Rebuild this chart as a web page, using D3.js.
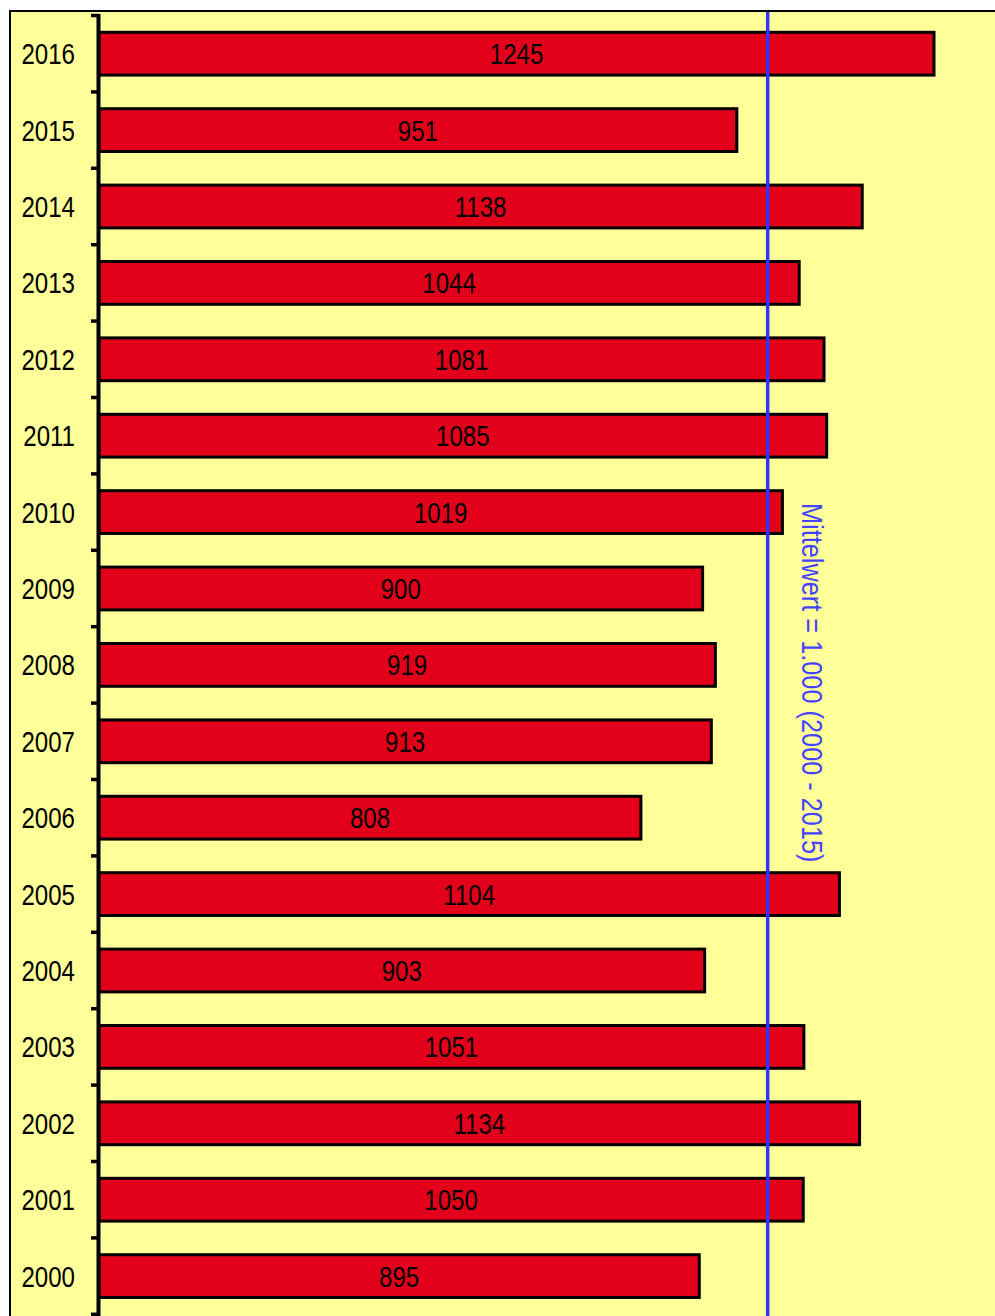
<!DOCTYPE html>
<html>
<head>
<meta charset="utf-8">
<script src="https://cdn.jsdelivr.net/npm/d3@7"></script>
<style>
  body { margin: 0; background: #ffffff; }
  svg { display: block; }
</style>
</head>
<body>
<div id="chart"></div>
<script>
// years, top to bottom
var years = ["2016", "2015", "2014", "2013", "2012", "2011", "2010", "2009",
  "2008", "2007", "2006", "2005", "2004", "2003", "2002", "2001", "2000"];
var values = [1245, 951, 1138, 1044, 1081, 1085, 1019, 900,
  919, 913, 808, 1104, 903, 1051, 1134, 1050, 895];
var meanValue = 1000;
var meanLabel = "Mittelwert = 1.000 (2000 - 2015)";

var width = 995, height = 1316;
var font = "'Liberation Sans', Arial, sans-serif";
var narrow = 0.83;   // the original font is a condensed one

var svg = d3.select("#chart").append("svg")
    .attr("width", width)
    .attr("height", height);

// plot area
svg.append("rect")
    .attr("x", 10)
    .attr("y", 11)
    .attr("width", width + 10)
    .attr("height", height + 10)
    .attr("fill", "#ffff99")
    .attr("stroke", "#000")
    .attr("stroke-width", 2);

var x = d3.scaleLinear().domain([0, 1245]).range([99, 934]);

var y = d3.scaleBand()
    .domain(years)
    .range([15.5, 1314.3])
    .paddingInner(0.44)
    .paddingOuter(0.22);

// bars
svg.append("g").selectAll("rect")
    .data(years)
    .join("rect")
    .attr("x", x(0))
    .attr("y", function(d) { return y(d); })
    .attr("width", function(d, i) { return x(values[i]) - x(0); })
    .attr("height", y.bandwidth())
    .attr("fill", "#e2001a")
    .attr("stroke", "#000")
    .attr("stroke-width", 3);

// value labels
svg.append("g").selectAll("text")
    .data(years)
    .join("text")
    .attr("transform", function(d, i) {
      return "translate(" + (x(0) + x(values[i])) / 2 + "," + (y(d) + y.bandwidth() / 2) +
        ") scale(" + narrow + ",1)";
    })
    .attr("dy", "0.36em")
    .attr("text-anchor", "middle")
    .style("font-family", font)
    .style("font-size", "29px")
    .attr("fill", "#000")
    .text(function(d, i) { return values[i]; });

// mean line
svg.append("line")
    .attr("x1", x(meanValue) - 2)
    .attr("x2", x(meanValue) - 2)
    .attr("y1", 12)
    .attr("y2", height)
    .attr("stroke", "#3333ff")
    .attr("stroke-width", 3.5);

svg.append("text")
    .attr("transform", "translate(802,503) rotate(90) scale(0.873,1)")
    .style("font-family", font)
    .style("font-size", "29px")
    .attr("fill", "#4444ff")
    .text(meanLabel);

// year labels
svg.append("g").selectAll("text")
    .data(years)
    .join("text")
    .attr("transform", function(d) {
      return "translate(75," + (y(d) + y.bandwidth() / 2) + ") scale(" + narrow + ",1)";
    })
    .attr("dy", "0.36em")
    .attr("text-anchor", "end")
    .style("font-family", font)
    .style("font-size", "29px")
    .attr("fill", "#000")
    .text(function(d) { return d; });

// axis line and ticks on band edges
var step = y.step();
var edges = d3.range(years.length + 1).map(function(i) { return 15.5 + i * step; });

svg.append("line")
    .attr("x1", 98.5).attr("x2", 98.5)
    .attr("y1", 14).attr("y2", height)
    .attr("stroke", "#000")
    .attr("stroke-width", 4);

svg.append("g").selectAll("line")
    .data(edges)
    .join("line")
    .attr("x1", 91).attr("x2", 99)
    .attr("y1", function(d) { return d; })
    .attr("y2", function(d) { return d; })
    .attr("stroke", "#000")
    .attr("stroke-width", 3.5);
</script>
</body>
</html>
